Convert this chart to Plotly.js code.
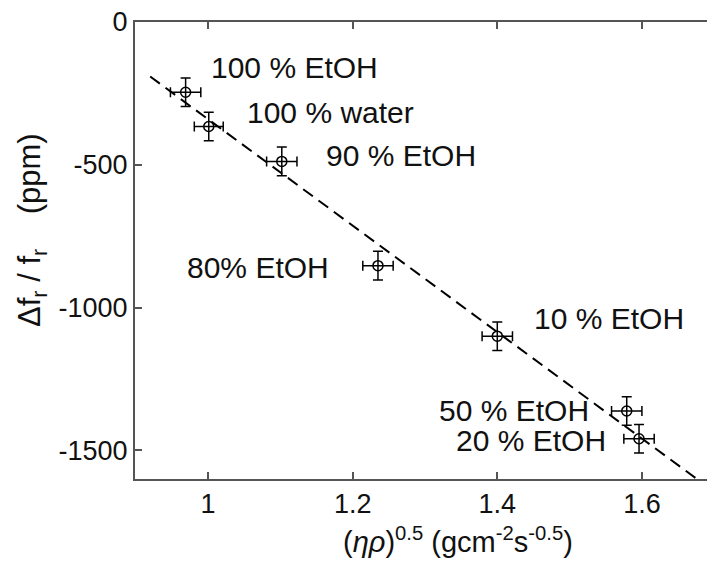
<!DOCTYPE html>
<html>
<head>
<meta charset="utf-8">
<script src="https://cdn.plot.ly/plotly-3.0.1.min.js"></script>
<style>html,body{margin:0;padding:0;background:#fff;}#chart{width:707px;height:564px;}</style>
</head>
<body>
<div id="chart"></div>
<script>
// Data
var sqrtEtaRho = [0.969, 1.001, 1.102, 1.235, 1.400, 1.579, 1.596];
var dfOverF    = [-246, -366, -488, -853, -1100, -1362, -1459];
var xErr       = [0.021, 0.020, 0.021, 0.021, 0.021, 0.021, 0.021];
var yErr       = [50, 50, 50, 50, 50, 50, 50];
var fitX = [0.92, 1.676];
var fitY = [-191, -1600];
var labelText = ["100 % EtOH", "100 % water", "90 % EtOH", "80% EtOH", "10 % EtOH", "50 % EtOH", "20 % EtOH"];
var labelX = [1.003, 1.052, 1.162, 0.970, 1.450, 1.318, 1.341];
var labelY = [-158, -316, -467, -861, -1038, -1360, -1466];
var xTicks = [1, 1.2, 1.4, 1.6];
var yTicks = [-1500, -1000, -500, 0];

var FONT = "Arial, 'Liberation Sans', Helvetica, sans-serif";

var traces = [
  {
    x: fitX, y: fitY, mode: 'lines', type: 'scatter',
    line: {color: '#000', width: 2, dash: '12px,7px'},
    hoverinfo: 'skip', showlegend: false
  },
  {
    x: sqrtEtaRho, y: dfOverF, mode: 'markers', type: 'scatter',
    marker: {symbol: 'circle-open', size: 10, color: '#000', line: {width: 1.5, color: '#000'}},
    error_x: {type: 'data', array: xErr, visible: true, color: '#000', thickness: 1.5, width: 5},
    error_y: {type: 'data', array: yErr, visible: true, color: '#000', thickness: 1.5, width: 5},
    showlegend: false
  }
];

var annotations = labelText.map(function (t, i) {
  return {
    x: labelX[i], y: labelY[i], xref: 'x', yref: 'y', text: t,
    showarrow: false, xanchor: 'left', yanchor: 'middle', borderpad: 0,
    font: {family: FONT, size: 30, color: '#111'}
  };
});
annotations.push({
  xref: 'paper', yref: 'paper', x: -0.18, y: 0.545, xanchor: 'center', yanchor: 'middle',
  textangle: -90, showarrow: false,
  text: 'Δf<sub>r</sub> / f<sub>r</sub>    (ppm)',
  font: {family: FONT, size: 31, color: '#111'}
});
annotations.push({
  xref: 'paper', yref: 'paper', x: 0.565, y: -0.134, xanchor: 'center', yanchor: 'middle',
  showarrow: false,
  text: '(<i>ηρ</i>)<sup>0.5</sup> (gcm<sup>-2</sup>s<sup>-0.5</sup>)',
  font: {family: FONT, size: 29, color: '#111'}
});

var layout = {
  width: 707, height: 564,
  margin: {l: 135, r: 0, t: 22, b: 85, pad: 0},
  paper_bgcolor: '#fff', plot_bgcolor: '#fff',
  showlegend: false,
  font: {family: FONT, color: '#111'},
  xaxis: {
    range: [0.899, 1.69], tickvals: xTicks, ticktext: xTicks.map(String),
    showgrid: false, zeroline: false, showline: true, linecolor: '#555', linewidth: 2,
    mirror: 'ticks', ticks: 'inside', ticklen: 7, tickwidth: 2, tickcolor: '#555',
    tickfont: {family: FONT, size: 27, color: '#111'}
  },
  yaxis: {
    range: [-1600, 0], tickvals: yTicks, ticktext: yTicks.map(String),
    showgrid: false, zeroline: false, showline: true, linecolor: '#555', linewidth: 2,
    mirror: false, ticks: 'inside', ticklen: 7, tickwidth: 2, tickcolor: '#555',
    tickfont: {family: FONT, size: 27, color: '#111'}
  },
  annotations: annotations
};

Plotly.newPlot('chart', traces, layout, {staticPlot: true, displayModeBar: false});
</script>
</body>
</html>
